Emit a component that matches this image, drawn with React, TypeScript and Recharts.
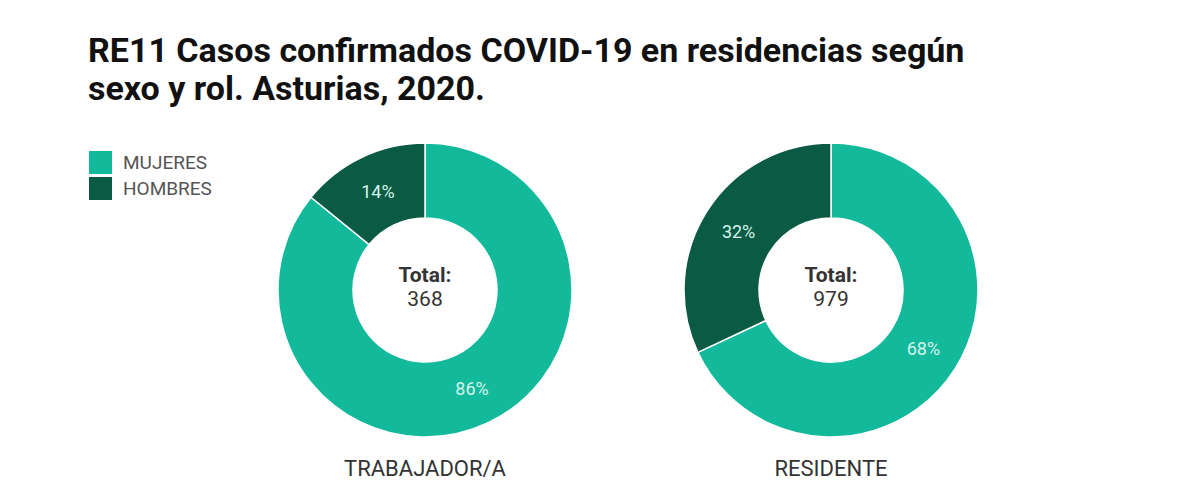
import React from 'react';
import { PieChart, Pie, Cell } from 'recharts';

const categories = ['MUJERES', 'HOMBRES'];
const colors = ['#13b99b', '#0a5a44'];
const roles = ['TRABAJADOR/A', 'RESIDENTE'];
const trabajadorValues = [316, 52];
const residenteValues = [666, 313];

const RAD = Math.PI / 180;
const font = 'Roboto, "Noto Sans", sans-serif';

const pctLabel = (props: any) => {
  const { cx, cy, midAngle, innerRadius, outerRadius, percent } = props;
  const r = (innerRadius + outerRadius) / 2;
  const x = cx + r * Math.cos(-midAngle * RAD);
  const y = cy + r * Math.sin(-midAngle * RAD);
  return (
    <text x={x} y={y} fill="#d4f5ec" fontSize={18} fontFamily={font} textAnchor="middle" dominantBaseline="central">
      {Math.round(percent * 100)}%
    </text>
  );
};

const toData = (values: number[]) => categories.map((name, i) => ({ name, value: values[i] }));
const sum = (values: number[]) => values.reduce((a, b) => a + b, 0);

const CY = 282;
const pies = [
  { role: roles[0], values: trabajadorValues, cx: 417 },
  { role: roles[1], values: residenteValues, cx: 823 },
];

export default function App() {
  return (
    <div style={{ position: 'relative', width: 1184, height: 484, background: '#fff', fontFamily: font }}>
      <div style={{ position: 'absolute', left: 80, top: 23, fontSize: 34, lineHeight: '38px', fontWeight: 'bold', color: '#111', whiteSpace: 'nowrap' }}>
        RE11 Casos confirmados COVID-19 en residencias según
        <br />
        sexo y rol. Asturias, 2020.
      </div>
      <div style={{ position: 'absolute', left: 81, top: 141 }}>
        {categories.map((c, i) => (
          <div key={c} style={{ display: 'flex', alignItems: 'center', height: 26 }}>
            <div style={{ width: 23, height: 23, background: colors[i], marginRight: 11 }} />
            <span style={{ fontSize: 19, color: '#555' }}>{c}</span>
          </div>
        ))}
      </div>
      <div style={{ position: 'absolute', left: 0, top: 0 }}>
        <PieChart width={1184} height={484} margin={{ top: 0, right: 0, bottom: 0, left: 0 }}>
          {pies.map((p) => (
            <Pie
              key={p.role}
              data={toData(p.values)}
              dataKey="value"
              nameKey="name"
              cx={p.cx}
              cy={CY}
              innerRadius={72}
              outerRadius={147}
              startAngle={90}
              endAngle={-270}
              stroke="#ffffff"
              strokeWidth={1.5}
              label={pctLabel}
              labelLine={false}
              isAnimationActive={false}
            >
              {categories.map((c, i) => (
                <Cell key={c} fill={colors[i]} />
              ))}
            </Pie>
          ))}
        </PieChart>
      </div>
      {pies.map((p) => (
        <div
          key={p.role + '-total'}
          style={{ position: 'absolute', left: p.cx - 60, width: 120, top: 255, textAlign: 'center', fontSize: 21, lineHeight: '24px', color: '#333' }}
        >
          <div style={{ fontWeight: 'bold' }}>Total:</div>
          <div>{sum(p.values)}</div>
        </div>
      ))}
      {pies.map((p) => (
        <div
          key={p.role}
          style={{ position: 'absolute', left: p.cx - 150, width: 300, top: 448, textAlign: 'center', fontSize: 22, color: '#333' }}
        >
          {p.role}
        </div>
      ))}
    </div>
  );
}
